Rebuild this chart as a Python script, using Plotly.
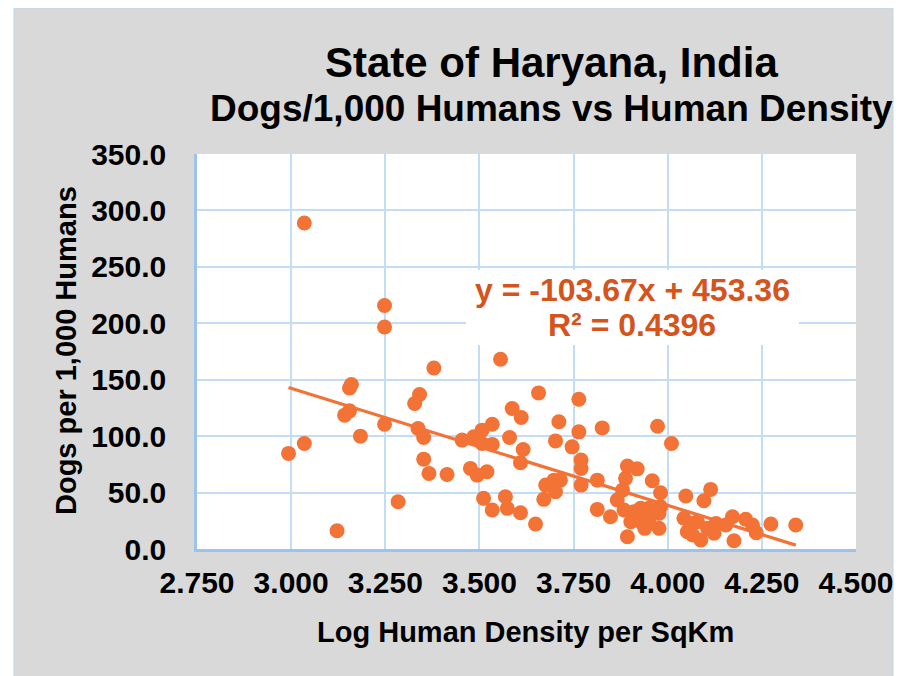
import plotly.graph_objects as go

# ---- data ----
log_density = [
    2.993, 3.035, 3.035, 3.122, 3.142, 3.155, 3.155, 3.160, 3.184, 3.248,
    3.248, 3.248, 3.284, 3.328, 3.341, 3.337, 3.352, 3.352, 3.366, 3.379,
    3.414, 3.454, 3.476, 3.485, 3.494, 3.507, 3.507, 3.511, 3.520, 3.534,
    3.534, 3.534, 3.556, 3.569, 3.574, 3.580, 3.587, 3.609, 3.611, 3.616,
    3.609, 3.649, 3.657, 3.671, 3.676, 3.698, 3.702, 3.702, 3.711, 3.715,
    3.746, 3.764, 3.764, 3.770, 3.770, 3.770, 3.813, 3.826, 3.813, 3.848,
    3.866, 3.880, 3.884, 3.888, 3.893, 3.893, 3.902, 3.910, 3.919, 3.928,
    3.928, 3.939, 3.950, 3.950, 3.959, 3.973, 3.977, 3.977, 3.981, 3.981,
    4.010, 4.043, 4.048, 4.052, 4.061, 4.066, 4.079, 4.088, 4.096, 4.106,
    4.114, 4.123, 4.128, 4.154, 4.172, 4.176, 4.207, 4.225, 4.235, 4.274,
    4.340,
]
dogs_per_1000 = [
    84.7, 93.5, 288.8, 16.2, 118.6, 122.4, 142.7, 145.7, 100.0, 110.6,
    196.7, 215.7, 41.9, 128.9, 136.9, 106.8, 98.8, 79.6, 67.0, 160.4,
    66.1, 96.5, 71.4, 99.4, 65.5, 105.3, 93.5, 44.9, 68.4, 110.6,
    92.7, 34.5, 168.1, 46.3, 36.0, 98.8, 124.5, 32.1, 116.5, 88.2,
    76.4, 22.1, 138.3, 44.0, 56.6, 61.0, 95.8, 50.7, 112.7, 61.0,
    90.5, 132.7, 103.8, 78.8, 71.4, 56.6, 61.0, 107.3, 35.1, 28.6,
    43.4, 52.2, 34.5, 62.6, 73.5, 10.9, 24.2, 33.0, 71.0, 36.0,
    24.2, 18.3, 36.0, 25.7, 60.5, 108.8, 31.6, 18.3, 49.8, 37.4,
    93.5, 27.2, 46.9, 15.3, 22.7, 12.4, 24.2, 8.0, 42.7, 18.3,
    52.8, 13.9, 22.7, 21.2, 28.6, 7.3, 26.3, 21.2, 14.4, 22.1,
    21.2,
]
SLOPE = -103.67
INTERCEPT = 453.36
R_SQUARED = 0.4396

x_ticks = [2.75, 3.0, 3.25, 3.5, 3.75, 4.0, 4.25, 4.5]
y_ticks = [0, 50, 100, 150, 200, 250, 300, 350]

TITLE = "State of Haryana, India"
SUBTITLE = "Dogs/1,000 Humans vs Human Density"
X_TITLE = "Log Human Density per SqKm"
Y_TITLE = "Dogs per 1,000 Humans"

# ---- styling ----
ORANGE = "#F37235"
EQ_COLOR = "#D4541C"
GRID = "#C3DDF6"
AXIS = "#9DC3EC"
FONT = "Liberation Sans, Arial, sans-serif"

x_min, x_max = min(log_density), max(log_density)
trend_x = [x_min, x_max]
trend_y = [SLOPE * v + INTERCEPT for v in trend_x]

fig = go.Figure()
fig.add_trace(go.Scatter(
    x=log_density, y=dogs_per_1000, mode="markers",
    marker=dict(size=15, color=ORANGE, line=dict(width=0)),
    showlegend=False, hoverinfo="x+y"))
fig.add_trace(go.Scatter(
    x=trend_x, y=trend_y, mode="lines",
    line=dict(color=ORANGE, width=3.2),
    showlegend=False, hoverinfo="skip"))

# page has an 8px body margin; positions below are in window pixels
OFF = 8
W, H = 900, 668
L, R, T, B = 197 - OFF, 52, 154 - OFF, 127
pw, ph = W - L - R, H - T - B


def px_x(p):
    return (p - OFF - L) / pw


def px_y(p):
    return (H - B - (p - OFF)) / ph


shapes = [
    dict(type="rect", xref="paper", yref="paper", layer="below",
         x0=px_x(14), x1=px_x(893), y0=px_y(680), y1=px_y(8),
         fillcolor="#D9D9D9", line=dict(color="#BDD7EE", width=1)),
    dict(type="rect", xref="paper", yref="paper", layer="below",
         x0=0, x1=1, y0=0, y1=1, fillcolor="white", line=dict(width=0)),
    dict(type="rect", xref="paper", yref="paper", layer="above",
         x0=px_x(466), x1=px_x(799), y0=px_y(345), y1=px_y(270),
         fillcolor="white", line=dict(width=0)),
]

annotations = [
    dict(text=TITLE, x=px_x(551), y=px_y(62), xref="paper", yref="paper",
         showarrow=False, xanchor="center", yanchor="middle",
         font=dict(family=FONT, size=42, color="black", weight=700)),
    dict(text=SUBTITLE, x=px_x(551), y=px_y(108), xref="paper", yref="paper",
         showarrow=False, xanchor="center", yanchor="middle",
         font=dict(family=FONT, size=37, color="black", weight=700)),
    dict(text=X_TITLE, x=px_x(525), y=px_y(632), xref="paper", yref="paper",
         showarrow=False, xanchor="center", yanchor="middle",
         font=dict(family=FONT, size=29, color="black", weight=700)),
    dict(text=Y_TITLE, x=px_x(66), y=px_y(351), xref="paper", yref="paper",
         showarrow=False, xanchor="center", yanchor="middle", textangle=-90,
         font=dict(family=FONT, size=29, color="black", weight=700)),
    dict(text=f"y = {SLOPE:.2f}x + {INTERCEPT:.2f}", x=px_x(632), y=px_y(290),
         xref="paper", yref="paper", showarrow=False,
         xanchor="center", yanchor="middle",
         font=dict(family=FONT, size=32, color=EQ_COLOR, weight=700)),
    dict(text=f"R² = {R_SQUARED:.4f}", x=px_x(632), y=px_y(325),
         xref="paper", yref="paper", showarrow=False,
         xanchor="center", yanchor="middle",
         font=dict(family=FONT, size=32, color=EQ_COLOR, weight=700)),
]

fig.update_layout(
    width=W, height=H,
    margin=dict(l=L, r=R, t=T, b=B),
    paper_bgcolor="white", plot_bgcolor="white",
    shapes=shapes, annotations=annotations,
    showlegend=False,
)
fig.update_xaxes(
    range=[2.75, 4.5], tickvals=x_ticks, tickformat=".3f",
    showgrid=True, gridcolor=GRID, gridwidth=2,
    showline=True, linecolor=AXIS, linewidth=2.5,
    zeroline=False, ticks="outside", ticklen=5, tickcolor="rgba(0,0,0,0)",
    tickfont=dict(family=FONT, size=30, color="black", weight=700),
)
fig.update_yaxes(
    range=[0, 350], tickvals=y_ticks, tickformat=".1f",
    showgrid=True, gridcolor=GRID, gridwidth=2,
    showline=True, linecolor=AXIS, linewidth=2.5,
    zeroline=False, ticks="outside", ticklen=22, tickcolor="rgba(0,0,0,0)",
    tickfont=dict(family=FONT, size=30, color="black", weight=700),
)

fig.write_html("out.html")
